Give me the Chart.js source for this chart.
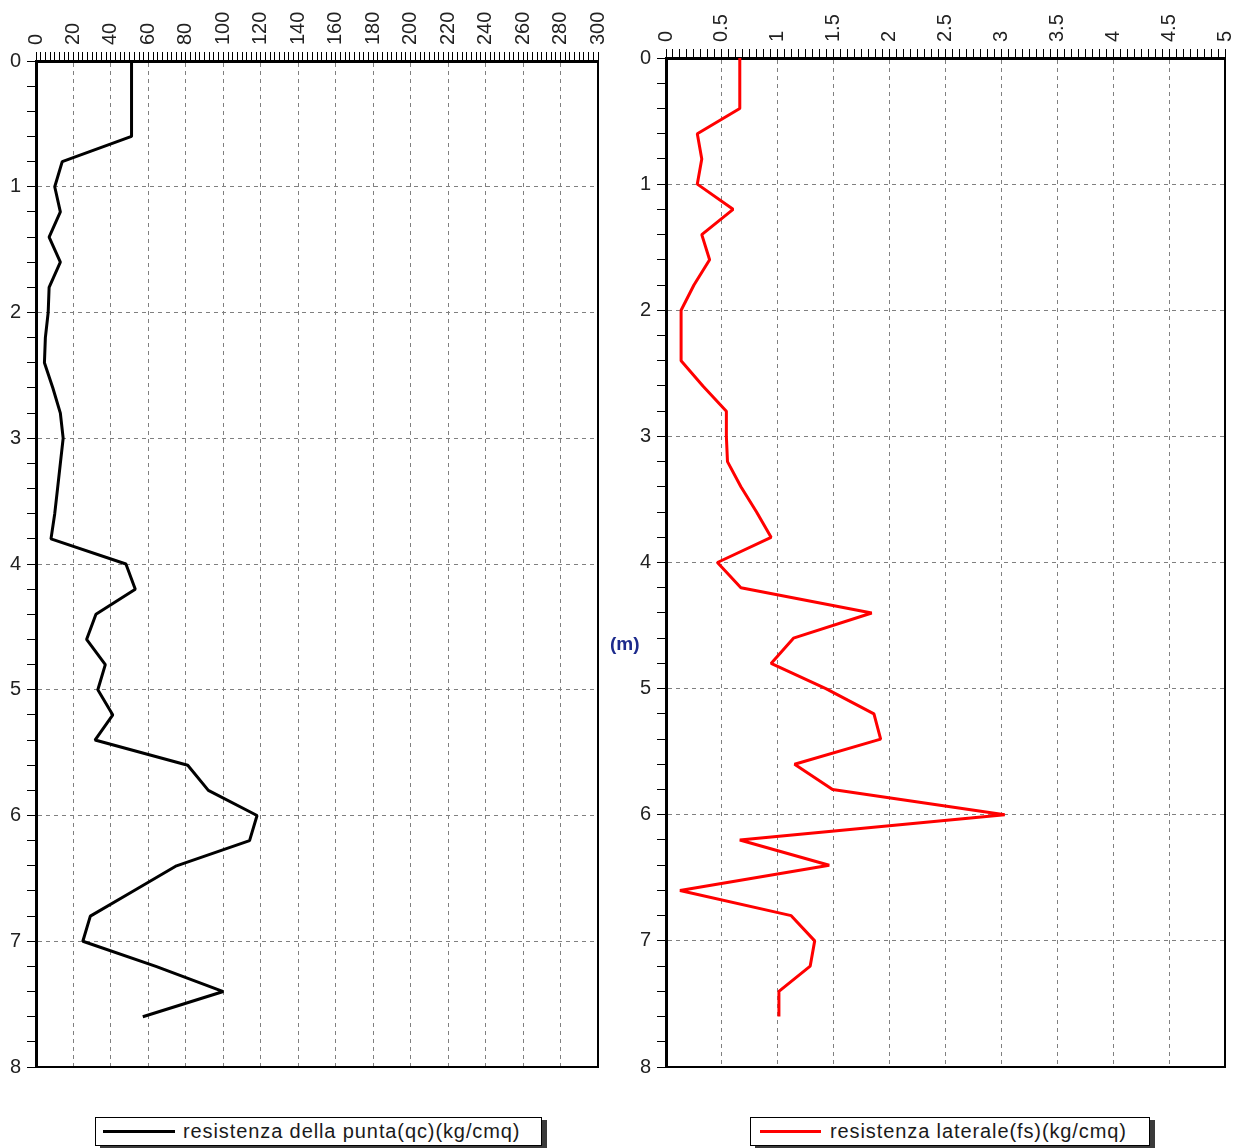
<!DOCTYPE html>
<html>
<head>
<meta charset="utf-8">
<script src="https://cdn.jsdelivr.net/npm/chart.js@4/dist/chart.umd.min.js"></script>
<style>
  html, body { margin: 0; padding: 0; background: #fff; }
  body { width: 1237px; height: 1148px; position: relative; overflow: hidden;
         font-family: "Liberation Sans", Arial, sans-serif; }
  .wrap { position: absolute; top: 0; height: 1085px; }
  #leftWrap { left: 0; width: 610px; }
  #rightWrap { left: 610px; width: 627px; }
  .legend { position: absolute; top: 1117px; height: 29px; box-sizing: border-box;
            border: 1px solid #000; background: #fff; box-shadow: 5px 3px 0 #3a3a3a;
            display: flex; align-items: center; font-size: 20px; letter-spacing: 0.9px;
            color: #1a1a1a; white-space: nowrap; }
  .legend .swatch { height: 3px; flex: none; }
  #unit { position: absolute; left: 610px; top: 633px; font: bold 19px "Liberation Sans", Arial, sans-serif;
          color: #1c2a8c; }
</style>
</head>
<body>
<div class="wrap" id="leftWrap"><canvas id="qcChart"></canvas></div>
<div class="wrap" id="rightWrap"><canvas id="fsChart"></canvas></div>
<div id="unit"></div>

<script>
// depth of each reading (m)
const depths = [0, 0.2, 0.4, 0.6, 0.8, 1.0, 1.2, 1.4, 1.6, 1.8,
                2.0, 2.2, 2.4, 2.6, 2.8, 3.0, 3.2, 3.4, 3.6, 3.8,
                4.0, 4.2, 4.4, 4.6, 4.8, 5.0, 5.2, 5.4, 5.6, 5.8,
                6.0, 6.2, 6.4, 6.6, 6.8, 7.0, 7.2, 7.4, 7.6];

// tip resistance qc (kg/cmq)
const qcValues = [51, 51, 51, 51, 14, 10, 13, 7, 13, 7,
                  6.5, 5, 4.5, 9, 13, 14.5, 13, 11.5, 10, 8,
                  48, 53, 32, 27, 37, 33, 41, 31.5, 81, 92,
                  118, 114, 75, 52, 29, 25, 64, 100, 57];

// side friction fs (kg/cmq)
const fsValues = [0.66, 0.66, 0.66, 0.28, 0.32, 0.28, 0.6, 0.32, 0.39, 0.25,
                  0.135, 0.135, 0.135, 0.33, 0.54, 0.54, 0.55, 0.67, 0.81, 0.94,
                  0.46, 0.67, 1.84, 1.14, 0.94, 1.43, 1.86, 1.92, 1.15, 1.49,
                  3.03, 0.66, 1.46, 0.125, 1.12, 1.33, 1.29, 1.01, 1.01];

const qcLabel = 'resistenza della punta(qc)(kg/cmq)';
const fsLabel = 'resistenza laterale(fs)(kg/cmq)';
const depthTitle = '(m)';

// axis ranges: [max, labelled step, minor tick step]
const qcAxis = [300, 20, 2.5];
const fsAxis = [5, 0.5, 0.0625];
const depthAxis = [8, 1, 0.2];

const FONT = '"Liberation Sans", Arial, sans-serif';
const TICK_LEN = 9;

const near = (v, step) => Math.abs(v / step - Math.round(v / step)) < 1e-6;

// right/bottom frame lines and the upright top-axis labels
const framePlugin = {
  id: 'frame',
  afterDraw(chart, args, opts) {
    const { ctx, chartArea: a } = chart;
    ctx.save();
    ctx.strokeStyle = '#000';
    ctx.lineWidth = 2;
    ctx.beginPath();
    ctx.moveTo(a.left, a.bottom);
    ctx.lineTo(a.right, a.bottom);
    ctx.lineTo(a.right, a.top);
    ctx.stroke();

    const xs = chart.scales.x;
    ctx.fillStyle = '#222';
    ctx.font = '20px ' + FONT;
    ctx.textAlign = 'left';
    ctx.textBaseline = 'middle';
    xs.ticks.forEach((t) => {
      if (!near(t.value, opts.major)) return;
      const px = xs.getPixelForValue(t.value);
      ctx.save();
      ctx.translate(px, a.top - TICK_LEN - 7);
      ctx.rotate(-Math.PI / 2);
      ctx.fillText(opts.fmt(t.value), 0, 0);
      ctx.restore();
    });
    ctx.restore();
  }
};

function makeChart(id, values, label, color, xAxis, yWidth, xHeight, fmt) {
  const [xMax, xMajor, xMinor] = xAxis;
  const [yMax, yMajor, yMinor] = depthAxis;
  return new Chart(document.getElementById(id), {
    type: 'line',
    data: {
      datasets: [{
        label: label,
        data: depths.map((d, i) => ({ x: values[i], y: d })),
        borderColor: color,
        borderWidth: 3,
        borderJoinStyle: 'bevel',
        pointRadius: 0,
        tension: 0,
        fill: false
      }]
    },
    options: {
      responsive: true,
      maintainAspectRatio: false,
      animation: false,
      layout: { padding: { top: 0, left: 0, right: 12, bottom: 14 } },
      plugins: {
        legend: { display: false },
        tooltip: { enabled: false },
        frame: { major: xMajor, fmt: fmt }
      },
      scales: {
        x: {
          type: 'linear',
          position: 'top',
          min: 0,
          max: xMax,
          afterFit: (s) => { s.height = xHeight; },
          border: { display: true, color: '#000', width: 3, dash: [4, 4] },
          grid: {
            color: (c) => near(c.tick.value, xMajor) ? '#808080' : 'rgba(0,0,0,0)',
            lineWidth: 1,
            tickColor: '#000',
            tickLength: TICK_LEN,
            tickWidth: 1
          },
          ticks: {
            stepSize: xMinor,
            autoSkip: false,
            display: false
          }
        },
        y: {
          type: 'linear',
          reverse: true,
          min: 0,
          max: yMax,
          afterFit: (s) => { s.width = yWidth; },
          border: { display: true, color: '#000', width: 3, dash: [4, 4] },
          grid: {
            color: (c) => near(c.tick.value, yMajor) ? '#808080' : 'rgba(0,0,0,0)',
            lineWidth: 1,
            tickColor: '#000',
            tickLength: TICK_LEN,
            tickWidth: 1
          },
          ticks: {
            stepSize: yMinor,
            autoSkip: false,
            padding: 6,
            color: '#222',
            font: { family: FONT, size: 20 },
            callback: (v) => near(v, yMajor) ? String(Math.round(v)) : ''
          }
        }
      }
    },
    plugins: [framePlugin]
  });
}

const qcChart = makeChart('qcChart', qcValues, qcLabel, '#000000', qcAxis, 36, 61,
  (v) => String(Math.round(v)));
const fsChart = makeChart('fsChart', fsValues, fsLabel, '#ff0000', fsAxis, 56, 58,
  (v) => String(Math.round(v * 10) / 10));

// boxed legends under each plot
function addLegend(chart, left, width, swatchLeft, swatchWidth, gap) {
  const ds = chart.data.datasets[0];
  const box = document.createElement('div');
  box.className = 'legend';
  box.style.left = left + 'px';
  box.style.width = width + 'px';
  const sw = document.createElement('span');
  sw.className = 'swatch';
  sw.style.background = ds.borderColor;
  sw.style.width = swatchWidth + 'px';
  sw.style.marginLeft = swatchLeft + 'px';
  sw.style.marginRight = gap + 'px';
  const tx = document.createElement('span');
  tx.textContent = ds.label;
  box.appendChild(sw);
  box.appendChild(tx);
  document.body.appendChild(box);
}
addLegend(qcChart, 95, 447, 7, 72, 8);
addLegend(fsChart, 750, 400, 9, 61, 9);

document.getElementById('unit').textContent = depthTitle;
</script>
</body>
</html>
